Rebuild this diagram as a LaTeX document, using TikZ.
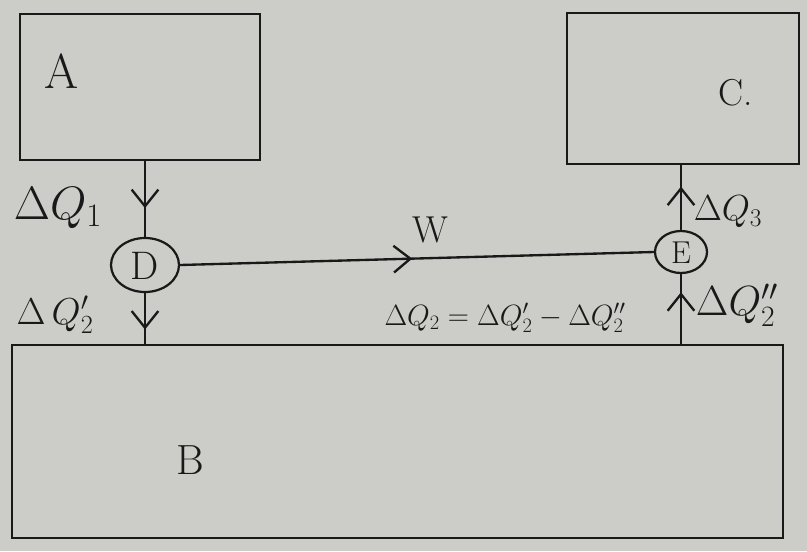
\RequirePackage{fix-cm}
\documentclass[tikz,border=0pt]{standalone}
\usetikzlibrary{shapes.geometric,arrows.meta,decorations.markings}
\definecolor{paper}{RGB}{204,204,201}
\definecolor{ink}{RGB}{25,25,25}
\tikzset{
  box/.style={draw=ink, line width=2.1pt, inner sep=0pt},
  valve/.style={draw=ink, line width=1.9pt, ellipse, inner sep=0pt},
  conn/.style={draw=ink, line width=2pt},
  midarr/.style={postaction={decorate}, decoration={markings,
      mark=at position #1 with {\arrow[ink, line width=2pt]{Straight Barb[length=5mm,width=8mm]}}}},
  lbl/.style={text=ink, inner sep=0pt},
}
\begin{document}
\begin{tikzpicture}[x=0.03cm, y=-0.03cm]
\fill[paper] (0,0) rectangle (807,551);
\useasboundingbox (0,0) rectangle (807,551);

\node[box, minimum width=7.2cm, minimum height=4.38cm] (A) at (140,87) {};
\node[box, minimum width=6.96cm, minimum height=4.53cm] (C) at (683,88.5) {};
\node[box, minimum width=23.13cm, minimum height=5.79cm] (B) at (397.5,441.5) {};
\node[valve, minimum width=2.04cm, minimum height=1.62cm] (D) at (145,265) {};
\node[valve, minimum width=1.56cm, minimum height=1.26cm] (E) at (681,252) {};

\node[lbl, font=\fontsize{42}{46}\selectfont] (Atext) at (62,71) {A};
\node[lbl, font=\fontsize{32}{36}\selectfont] (Ctext) at (736,93) {C.};
\node[lbl, font=\fontsize{36}{40}\selectfont] (Btext) at (190,460) {B};
\node[lbl, font=\fontsize{34}{38}\selectfont] (Dtext) at (145,266) {D};
\node[lbl, font=\fontsize{27}{30}\selectfont] (Etext) at (681,253) {E};

\draw[conn, midarr=0.62] (A.south -| D) -- (D.north);
\draw[conn, midarr=0.72] (D.south) -- (D.south |- B.north);
\draw[conn, midarr=0.49] (D.east) -- (E.west);
\draw[conn, midarr=0.74] (B.north -| E) -- (E.south);
\draw[conn, midarr=0.67] (E.north) -- (E.north |- C.south);

\node[lbl, font=\fontsize{40}{44}\selectfont] (q1) at (58,208) {$\Delta Q_1$};
\node[lbl, font=\fontsize{32}{36}\selectfont] (q2p) at (55,315) {$\Delta\, Q_2'$};
\node[lbl, font=\fontsize{32}{36}\selectfont] (w) at (430,230) {W};
\node[lbl, font=\fontsize{31}{34}\selectfont] (q3) at (728,212) {$\Delta Q_3$};
\node[lbl, font=\fontsize{36}{40}\selectfont] (q2pp) at (737,305) {$\Delta Q_2''$};
\node[lbl, font=\fontsize{25}{28}\selectfont] (eq) at (505,318) {$\Delta Q_2 = \Delta Q_2' - \Delta Q_2''$};
\end{tikzpicture}
\end{document}
